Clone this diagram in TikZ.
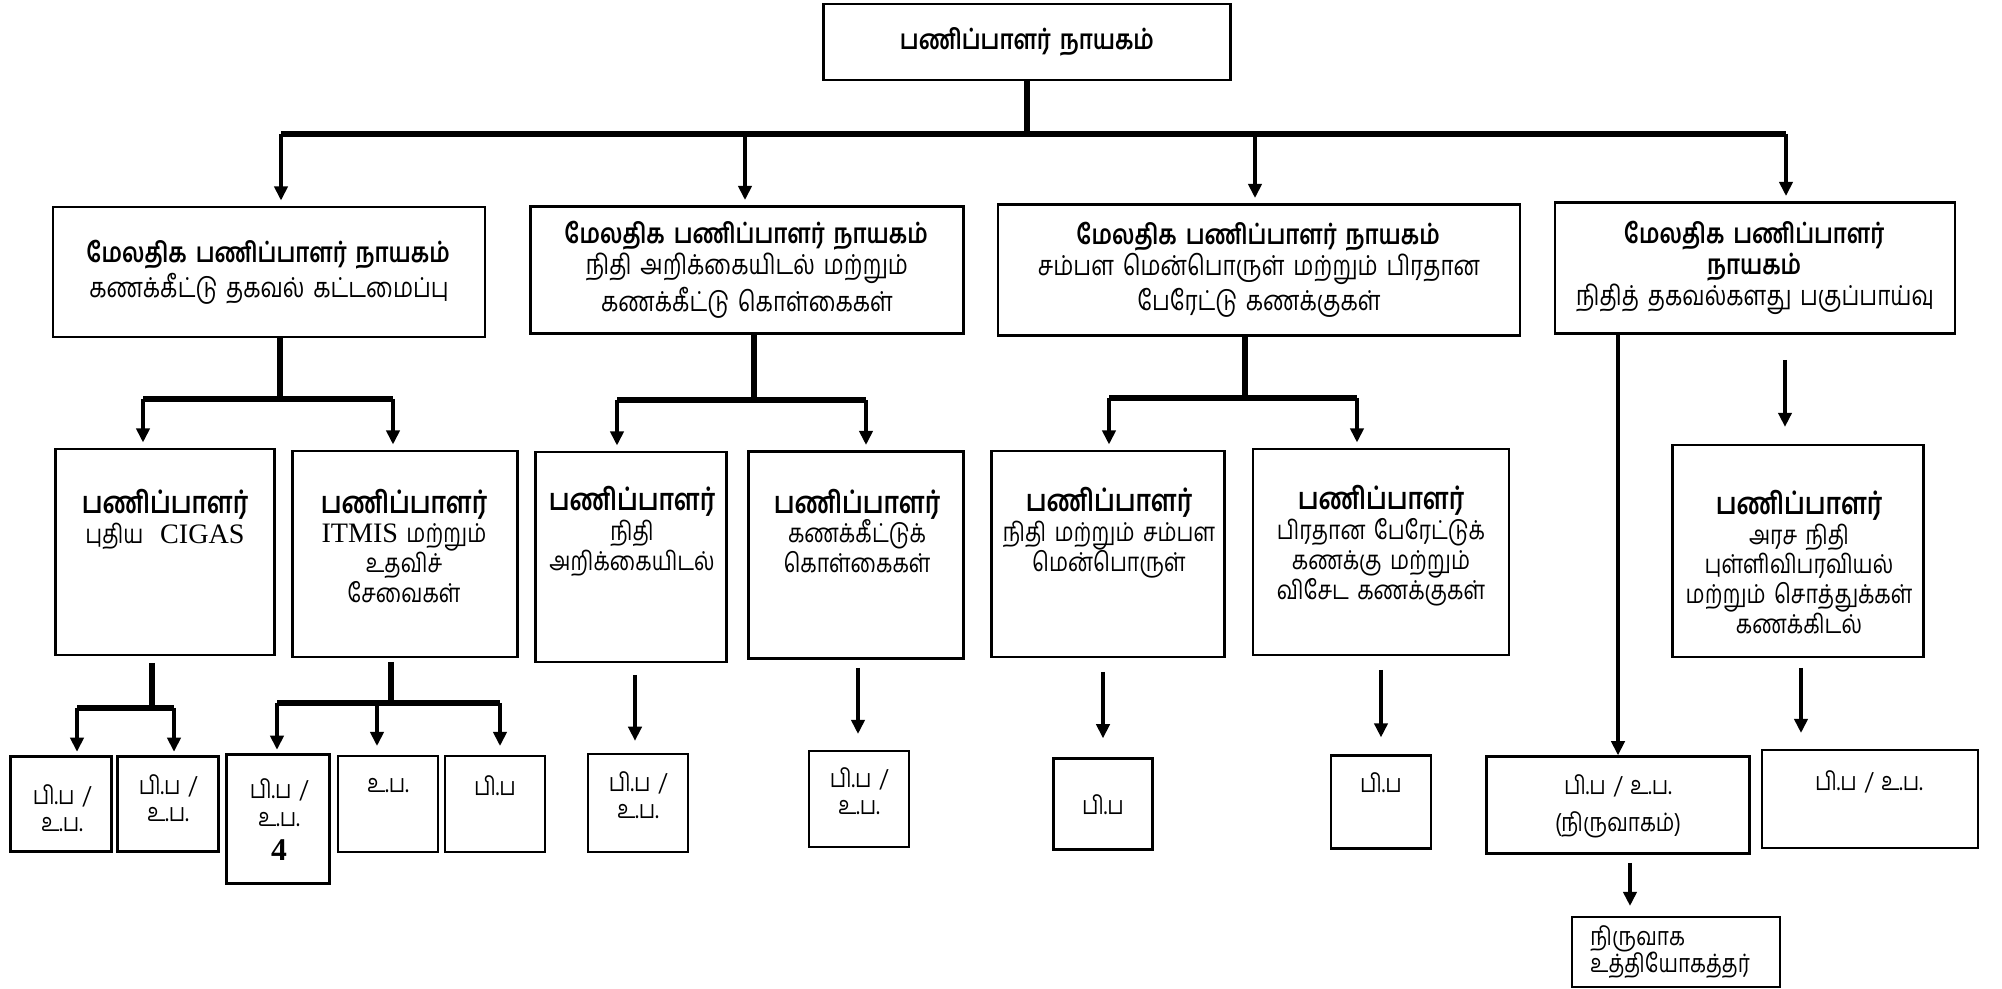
\documentclass[tikz,border=0pt]{standalone}
\usepackage{fontspec}
\setmainfont[Script=Tamil, FakeStretch=0.82, WordSpace=1.6]{Hind Madurai}
\newfontfamily\lat{Liberation Serif}
\usetikzlibrary{arrows.meta,positioning}
\newcommand{\chief}[1]{{\fontsize{8.6}{8.8}\selectfont\bfseries #1}}

\begin{document}
\begin{tikzpicture}[
  x=0.01cm, y=-0.01cm,
  box/.style={draw, line width=0.7pt, inner sep=0pt, align=center},
  head/.style={box, font=\fontsize{7.8}{8.8}\selectfont},
  txt/.style={align=center, inner sep=0pt, font=\fontsize{7.4}{8.5}\selectfont},
  small/.style={align=center, inner sep=0pt, font=\fontsize{7.2}{7.7}\selectfont},
  arrow/.style={-{Triangle[length=4pt,width=3.8pt]}, line width=0.9pt},
  bus/.style={line width=1.7pt},
]
  \useasboundingbox (0,0) rectangle (2002,989);

  % top
  \node[head, minimum width=4.07cm, minimum height=0.76cm] (top) at (1027,42) {\bfseries பணிப்பாளர் நாயகம்};

  % additional directors general
  \node[head, minimum width=4.32cm, minimum height=1.30cm] (b1) at (269,272)
    {\textbf{மேலதிக பணிப்பாளர் நாயகம்}\\ கணக்கீட்டு தகவல் கட்டமைப்பு};
  \node[head, minimum width=4.33cm, minimum height=1.27cm] (b2) at (747,270)
    {\textbf{மேலதிக பணிப்பாளர் நாயகம்}\\ நிதி அறிக்கையிடல் மற்றும்\\ கணக்கீட்டு கொள்கைகள்};
  \node[head, minimum width=5.22cm, minimum height=1.31cm] (b3) at (1259,270)
    {\textbf{மேலதிக பணிப்பாளர் நாயகம்}\\ சம்பள மென்பொருள் மற்றும் பிரதான\\ பேரேட்டு கணக்குகள்};
  \node[head, minimum width=4.00cm, minimum height=1.31cm] (b4) at (1755,268)
    {\textbf{மேலதிக பணிப்பாளர்}\\ \textbf{நாயகம்}\\ நிதித் தகவல்களது பகுப்பாய்வு};

  \coordinate (r1) at (281,134);
  \coordinate (r2) at (745,134);
  \coordinate (r3) at (1255,134);
  \coordinate (r4) at (1786,134);
  \draw[bus] (top.south) -- (top.south |- r1);
  \draw[bus] (r1) -- (r4);
  \draw[arrow, shorten >=1.5pt] (r1) -- (r1 |- b1.north);
  \draw[arrow, shorten >=1.5pt] (r2) -- (r2 |- b2.north);
  \draw[arrow, shorten >=1.5pt] (r3) -- (r3 |- b3.north);
  \draw[arrow, shorten >=1.5pt] (r4) -- (r4 |- b4.north);

  % directors
  \node[box, minimum width=2.19cm, minimum height=2.06cm] (c1) at (165,552) {};
  \node[box, minimum width=2.25cm, minimum height=2.06cm] (c2) at (405,554) {};
  \node[box, minimum width=1.91cm, minimum height=2.10cm] (c3) at (631,557) {};
  \node[box, minimum width=2.15cm, minimum height=2.07cm] (c4) at (856,555) {};
  \node[box, minimum width=2.33cm, minimum height=2.06cm] (c5) at (1108,554) {};
  \node[box, minimum width=2.56cm, minimum height=2.06cm] (c6) at (1381,552) {};
  \node[box, minimum width=2.51cm, minimum height=2.12cm] (c7) at (1798,551) {};

  \node[txt] (c1t) at (165,519) {\chief{பணிப்பாளர்}\\ புதிய \ {\lat\fontsize{8}{8.5}\selectfont CIGAS}};
  \node[txt] (c2t) at (404,546) {\chief{பணிப்பாளர்}\\ {\lat\fontsize{8}{8.5}\selectfont ITMIS} மற்றும்\\ உதவிச்\\ சேவைகள்};
  \node[txt] (c3t) at (632,531) {\chief{பணிப்பாளர்}\\ நிதி\\ அறிக்கையிடல்};
  \node[txt] (c4t) at (857,531) {\chief{பணிப்பாளர்}\\ கணக்கீட்டுக்\\ கொள்கைகள்};
  \node[txt] (c5t) at (1109,533) {\chief{பணிப்பாளர்}\\ நிதி மற்றும் சம்பள\\ மென்பொருள்};
  \node[txt] (c6t) at (1381,546) {\chief{பணிப்பாளர்}\\ பிரதான பேரேட்டுக்\\ கணக்கு மற்றும்\\ விசேட கணக்குகள்};
  \node[txt] (c7t) at (1799,562) {\chief{பணிப்பாளர்}\\ அரச நிதி\\ புள்ளிவிபரவியல்\\ மற்றும் சொத்துக்கள்\\ கணக்கிடல்};

  \coordinate (s1) at (280,399);
  \coordinate (p1) at (143,399);
  \coordinate (p2) at (393,399);
  \draw[bus] (s1 |- b1.south) -- (s1);
  \draw[bus] (p1) -- (p2);
  \draw[arrow, shorten >=1.5pt] (p1) -- (p1 |- c1.north);
  \draw[arrow, shorten >=1.5pt] (p2) -- (p2 |- c2.north);

  \coordinate (s2) at (754,400);
  \coordinate (p3) at (617,400);
  \coordinate (p4) at (866,400);
  \draw[bus] (s2 |- b2.south) -- (s2);
  \draw[bus] (p3) -- (p4);
  \draw[arrow, shorten >=1.5pt] (p3) -- (p3 |- c3.north);
  \draw[arrow, shorten >=1.5pt] (p4) -- (p4 |- c4.north);

  \coordinate (s3) at (1245,398);
  \coordinate (p5) at (1109,398);
  \coordinate (p6) at (1357,398);
  \draw[bus] (s3 |- b3.south) -- (s3);
  \draw[bus] (p5) -- (p6);
  \draw[arrow, shorten >=1.5pt] (p5) -- (p5 |- c5.north);
  \draw[arrow, shorten >=1.5pt] (p6) -- (p6 |- c6.north);

  \coordinate (q7) at (1785,360);
  \draw[arrow, shorten >=4.8pt] (q7) -- (q7 |- c7.north);

  % staff
  \node[box, minimum width=1.01cm, minimum height=0.95cm] (d1) at (61,804) {};
  \node[box, minimum width=1.01cm, minimum height=0.95cm] (d2) at (168,804) {};
  \node[box, minimum width=1.03cm, minimum height=1.29cm] (d3) at (278,819) {};
  \node[box, minimum width=1.00cm, minimum height=0.96cm] (d4) at (388,804) {};
  \node[box, minimum width=1.00cm, minimum height=0.96cm] (d5) at (495,804) {};
  \node[box, minimum width=1.00cm, minimum height=0.98cm] (d6) at (638,803) {};
  \node[box, minimum width=1.00cm, minimum height=0.96cm] (d7) at (859,799) {};
  \node[box, minimum width=0.99cm, minimum height=0.91cm] (d8) at (1103,804) {};
  \node[box, minimum width=1.00cm, minimum height=0.93cm] (d9) at (1381,802) {};
  \node[box, minimum width=2.63cm, minimum height=0.97cm] (d10) at (1618,805) {};
  \node[box, minimum width=2.16cm, minimum height=0.98cm] (d11) at (1870,799) {};
  \node[box, minimum width=2.08cm, minimum height=0.70cm] (e1) at (1676,952) {};

  \node[small] (d1t) at (62,808) {பி.ப /\\ உ.ப.};
  \node[small] (d2t) at (168,798) {பி.ப /\\ உ.ப.};
  \node[small] (d3t) at (279,820) {பி.ப /\\ உ.ப.\\[2.2pt] {\lat\bfseries\fontsize{9}{8.5}\selectfont 4}};
  \node[small] (d4t) at (388,786) {உ.ப.};
  \node[small] (d5t) at (495,786) {பி.ப};
  \node[small] (d6t) at (638,795) {பி.ப /\\ உ.ப.};
  \node[small] (d7t) at (859,791) {பி.ப /\\ உ.ப.};
  \node[small] (d8t) at (1103,805) {பி.ப};
  \node[small] (d9t) at (1381,783) {பி.ப};
  \node[small] (d10t) at (1618,806) {பி.ப / உ.ப.\\[1mm] (நிருவாகம்)};
  \node[small] (d11t) at (1869,782) {பி.ப / உ.ப.};
  \node[small, align=left, anchor=west, right=1.9mm of e1.west] (e1t) {நிருவாக\\ உத்தியோகத்தர்};

  \coordinate (s4) at (152,663);
  \coordinate (p7) at (77,708);
  \coordinate (p8) at (174,708);
  \draw[bus] (s4) -- (s4 |- p7);
  \draw[bus] (p7) -- (p8);
  \draw[arrow, shorten >=1pt] (p7) -- (p7 |- d1.north);
  \draw[arrow, shorten >=1pt] (p8) -- (p8 |- d2.north);

  \coordinate (s5) at (391,662);
  \coordinate (p9) at (277,703);
  \coordinate (p10) at (377,703);
  \coordinate (p11) at (500,703);
  \draw[bus] (s5) -- (s5 |- p9);
  \draw[bus] (p9) -- (p11);
  \draw[arrow, shorten >=1pt] (p9) -- (p9 |- d3.north);
  \draw[arrow, shorten >=2.5pt] (p10) -- (p10 |- d4.north);
  \draw[arrow, shorten >=2.5pt] (p11) -- (p11 |- d5.north);

  \coordinate (q6) at (635,675);
  \coordinate (q7) at (858,668);
  \coordinate (q8) at (1103,672);
  \coordinate (q9) at (1381,670);
  \coordinate (q11) at (1801,668);
  \coordinate (q12) at (1630,863);
  \draw[arrow, shorten >=3.4pt] (q6) -- (q6 |- d6.north);
  \draw[arrow, shorten >=4.5pt] (q7) -- (q7 |- d7.north);
  \draw[arrow, shorten >=5.4pt] (q8) -- (q8 |- d8.north);
  \draw[arrow, shorten >=4.8pt] (q9) -- (q9 |- d9.north);
  \draw[arrow, shorten >=4.5pt] (q11) -- (q11 |- d11.north);
  \draw[arrow] (d10.north |- b4.south) -- (d10.north);
  \draw[arrow, shorten >=2.8pt] (q12) -- (q12 |- e1.north);
\end{tikzpicture}
\end{document}
